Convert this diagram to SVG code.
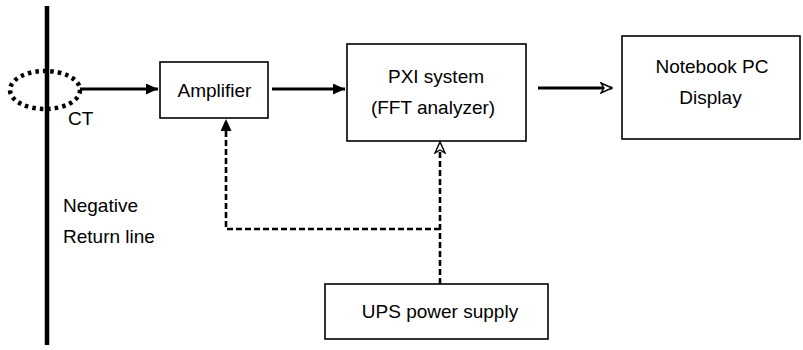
<svg xmlns="http://www.w3.org/2000/svg" width="803" height="350" viewBox="0 0 803 350">
<style>
  .box { fill: #fff; stroke: #000; stroke-width: 1.6; }
  .lbl { font-family: "Liberation Sans", Arial, sans-serif; font-size: 19px; fill: #000; }
  .mid { text-anchor: middle; }
  .solid { stroke: #000; stroke-width: 3; fill: none; }
  .dash { stroke: #000; stroke-width: 2.6; fill: none; stroke-dasharray: 6 3; }
</style>
<defs>
  <marker id="arrF" markerUnits="userSpaceOnUse" markerWidth="13" markerHeight="11" refX="12" refY="5.5" orient="auto">
    <path d="M0,0 L12,5.5 L0,11 z" fill="#000"/>
  </marker>
  <marker id="arrO" markerUnits="userSpaceOnUse" markerWidth="14" markerHeight="12" refX="12" refY="6" orient="auto">
    <path d="M1,1 L12,6 L1,11 L4,6 z" fill="#fff" stroke="#000" stroke-width="1.4"/>
  </marker>
</defs>
<rect width="803" height="350" fill="#fff"/>

<g id="return-line">
  <line x1="47" y1="6" x2="47" y2="345" stroke="#000" stroke-width="4.5"/>
  <text class="lbl" x="63" y="212">Negative</text>
  <text class="lbl" x="63" y="243">Return line</text>
</g>

<g id="ct">
  <ellipse cx="45" cy="90" rx="35" ry="19" fill="none" stroke="#000" stroke-width="4.5" stroke-dasharray="3.5 4" stroke-linecap="butt"/>
  <text class="lbl" x="68" y="125">CT</text>
</g>

<g id="amplifier">
  <rect class="box" x="160" y="62" width="108" height="56"/>
  <text class="lbl mid" x="214.5" y="97">Amplifier</text>
</g>

<g id="pxi">
  <rect class="box" x="347" y="44" width="179" height="97"/>
  <text class="lbl mid" x="436" y="83">PXI system</text>
  <text class="lbl mid" x="433" y="114">(FFT analyzer)</text>
</g>

<g id="notebook">
  <rect class="box" x="622" y="36" width="178" height="103"/>
  <text class="lbl mid" x="712" y="73">Notebook PC</text>
  <text class="lbl mid" x="710.5" y="104">Display</text>
</g>

<g id="ups">
  <rect class="box" x="325" y="284" width="223" height="55"/>
  <text class="lbl mid" x="440" y="318">UPS power supply</text>
</g>

<g id="connectors">
  <line class="solid" x1="80" y1="89" x2="158" y2="89" marker-end="url(#arrF)"/>
  <line class="solid" x1="272" y1="89" x2="345" y2="89" marker-end="url(#arrF)"/>
  <line class="solid" x1="538" y1="88" x2="612" y2="88" marker-end="url(#arrO)"/>
  <path class="dash" d="M440,284 L440,142" marker-end="url(#arrO)"/>
  <path class="dash" d="M440,229 L226,229 L226,119" marker-end="url(#arrF)"/>
</g>
</svg>
